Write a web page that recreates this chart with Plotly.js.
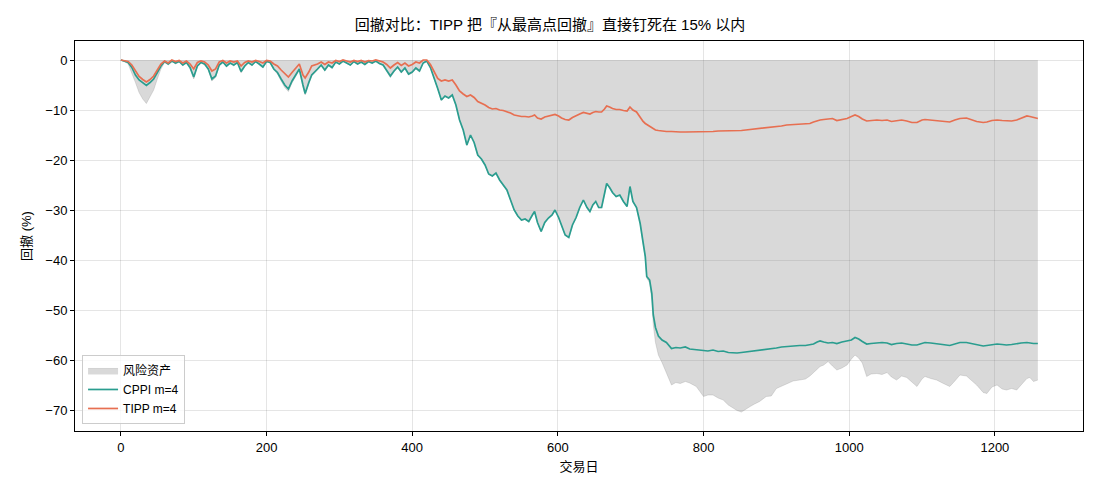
<!DOCTYPE html>
<html><head><meta charset="utf-8">
<script src="https://cdn.plot.ly/plotly-3.0.1.min.js"></script>
<style>html,body{margin:0;padding:0;background:#fff}#chart{width:1100px;height:495px}</style>
</head><body><div id="chart"></div>
<script>
const days = [0,5,10,15,20,25,30,35,40,45,50,55,60,65,70,75,80,85,90,95,100,105,110,115,120,125,130,135,140,145,150,155,160,165,170,175,180,185,190,195,200,205,210,215,220,225,230,235,240,245,250,253,258,262,270,275,280,285,290,295,300,305,310,315,320,325,330,335,340,345,350,355,360,365,370,375,380,385,390,395,400,405,410,415,420,425,430,435,440,445,450,455,460,465,470,475,480,485,490,495,500,505,510,515,520,525,530,535,540,545,550,555,560,565,568,572,577,582,587,592,596,601,605,610,615,620,625,630,635,640,644,648,652,656,660,664,667,671,675,680,685,690,695,699,703,708,713,717,720,722,726,729,731,734,738,743,749,756,762,768,775,781,790,800,806,813,820,827,834,841,846,852,858,864,870,877,886,893,900,907,914,923,932,940,946,951,956,960,965,971,977,983,990,997,1003,1008,1013,1018,1024,1030,1038,1045,1052,1058,1065,1072,1079,1086,1093,1100,1104,1112,1120,1128,1138,1145,1152,1161,1168,1175,1184,1189,1196,1203,1210,1216,1223,1230,1236,1244,1248,1253,1259];

const cppi = [0,-0.2,-0.5,-1.5,-3.0,-4.0,-4.6,-5.1,-4.5,-3.8,-2.5,-1.2,-0.3,-0.8,-0.2,-0.6,-0.3,-1.0,-0.5,-1.5,-3.4,-1.2,-0.5,-0.8,-1.8,-3.8,-3.2,-1.0,-0.4,-1.2,-0.6,-1.0,-0.5,-2.3,-1.2,-0.5,-1.0,-0.3,-0.8,-1.4,-0.3,-0.5,-1.8,-2.5,-3.8,-5.0,-5.8,-4.2,-3.0,-1.8,-5.0,-6.7,-4.5,-3.0,-1.8,-1.0,-2.0,-1.0,-1.5,-0.4,-0.8,-0.2,-0.6,-1.0,-0.3,-0.8,-0.4,-0.9,-0.3,-0.6,-0.2,-0.7,-1.0,-2.0,-3.2,-2.2,-1.4,-2.4,-1.6,-2.8,-2.4,-1.6,-2.2,-0.6,-0.2,-1.5,-3.5,-5.7,-8.0,-7.2,-7.6,-7.0,-9.0,-12.0,-14.0,-17.0,-15.0,-16.5,-19.0,-19.8,-21.0,-22.8,-23.2,-22.6,-24.0,-25.0,-26.0,-28.0,-30.0,-31.2,-32.0,-31.8,-32.3,-31.0,-30.3,-32.5,-34.3,-32.5,-31.6,-31.0,-30.0,-31.5,-33.0,-35.0,-35.5,-33.0,-31.5,-29.5,-28.0,-29.5,-30.3,-29.0,-28.3,-29.5,-29.5,-27.0,-24.7,-25.5,-26.5,-27.3,-27.0,-28.3,-29.3,-25.3,-28.3,-29.5,-32.7,-36.5,-39.3,-43.3,-44.0,-46.7,-51.0,-53.5,-55.2,-56.0,-56.5,-57.7,-57.5,-57.6,-57.4,-57.8,-58.0,-58.1,-58.2,-58.0,-58.3,-58.2,-58.5,-58.6,-58.6,-58.5,-58.4,-58.2,-58.2,-58.0,-57.8,-57.8,-57.6,-57.4,-57.3,-57.2,-57.1,-57.1,-57.0,-56.8,-56.4,-56.2,-56.4,-56.6,-56.5,-56.7,-56.4,-56.2,-56.0,-55.5,-55.8,-56.3,-56.8,-56.7,-56.6,-56.5,-56.6,-56.9,-56.7,-56.6,-56.8,-57.0,-57.0,-56.6,-56.5,-56.6,-56.7,-56.9,-57.1,-56.8,-56.5,-56.5,-56.7,-57.0,-57.2,-57.1,-56.9,-56.8,-56.9,-57.0,-56.9,-56.7,-56.6,-56.5,-56.6,-56.7,-56.7];

const tipp = [0,-0.2,-0.3,-1.0,-2.2,-3.3,-3.9,-4.4,-3.9,-3.2,-2.0,-0.8,-0.2,-0.6,0,-0.3,-0.1,-0.6,-0.2,-0.8,-1.8,-0.5,-0.2,-0.4,-1.0,-2.2,-1.8,-0.4,-0.1,-0.6,-0.2,-0.4,-0.2,-1.2,-0.5,-0.2,-0.4,-0.1,-0.3,-0.6,-0.1,-0.2,-0.8,-1.2,-2.0,-2.8,-3.4,-2.5,-1.6,-0.8,-3.0,-3.6,-2.4,-1.2,-0.8,-0.4,-0.9,-0.4,-0.6,-0.1,-0.3,0,-0.2,-0.4,-0.1,-0.3,-0.1,-0.4,-0.1,-0.2,0,-0.2,-0.4,-0.9,-1.6,-1.0,-0.5,-1.1,-0.6,-1.2,-0.9,-0.4,-0.6,0,0,-0.9,-2.2,-3.7,-4.2,-4.0,-4.2,-4.0,-5.0,-6.2,-6.8,-7.3,-7.0,-7.5,-8.3,-8.6,-9.0,-9.5,-9.8,-9.7,-10.0,-10.1,-10.3,-10.6,-11.0,-11.2,-11.3,-11.3,-11.4,-11.2,-11.0,-11.6,-11.8,-11.4,-11.2,-11.0,-10.9,-11.2,-11.6,-11.9,-12.0,-11.5,-11.1,-10.8,-10.5,-10.7,-10.8,-10.5,-10.3,-10.4,-10.4,-9.8,-9.2,-9.4,-9.7,-9.9,-9.9,-10.1,-10.2,-9.4,-10.0,-10.4,-11.5,-12.3,-12.7,-12.9,-13.3,-13.6,-13.8,-14.0,-14.1,-14.2,-14.3,-14.3,-14.4,-14.4,-14.4,-14.4,-14.4,-14.3,-14.3,-14.3,-14.2,-14.2,-14.2,-14.1,-14.1,-14.1,-14.0,-13.9,-13.9,-13.8,-13.6,-13.5,-13.4,-13.2,-13.0,-12.9,-12.8,-12.8,-12.7,-12.4,-12.1,-12.0,-11.9,-11.8,-11.7,-12.1,-11.9,-11.7,-11.3,-11.0,-11.3,-11.8,-12.2,-12.1,-12.0,-12.1,-12.0,-12.3,-12.1,-12.0,-12.2,-12.5,-12.5,-12.0,-11.9,-12.0,-12.1,-12.2,-12.4,-12.0,-11.7,-11.6,-11.9,-12.3,-12.5,-12.4,-12.1,-12.0,-12.1,-12.2,-12.2,-12.0,-11.6,-11.2,-11.3,-11.5,-11.7];

const risky = [0,-0.3,-0.8,-2.5,-4.5,-6.5,-7.8,-8.7,-7.2,-6.0,-3.8,-1.8,-0.5,-1.0,-0.3,-0.8,-0.4,-1.2,-0.6,-1.8,-3.8,-1.4,-0.6,-1.0,-2.0,-4.2,-3.5,-1.2,-0.5,-1.4,-0.7,-1.2,-0.6,-2.6,-1.4,-0.6,-1.2,-0.4,-1.0,-1.6,-0.4,-0.6,-2.0,-2.8,-4.2,-5.5,-6.3,-4.6,-3.3,-2.0,-5.4,-7.0,-4.8,-3.2,-2.0,-1.2,-2.2,-1.2,-1.7,-0.5,-0.9,-0.3,-0.7,-1.1,-0.4,-0.9,-0.5,-1.0,-0.4,-0.7,-0.3,-0.8,-1.1,-2.2,-3.5,-2.4,-1.6,-2.6,-1.8,-3.0,-2.6,-1.8,-2.4,-0.7,-0.3,-1.6,-3.6,-5.8,-8.1,-7.3,-7.7,-7.1,-9.1,-12.1,-14.1,-17.1,-15.1,-16.6,-19.1,-19.9,-21.1,-22.9,-23.3,-22.7,-24.1,-25.1,-26.1,-28.1,-30.1,-31.3,-32.1,-31.9,-32.4,-31.1,-30.4,-32.6,-34.4,-32.6,-31.7,-31.1,-30.1,-31.6,-33.1,-35.1,-35.6,-33.1,-31.6,-29.6,-28.1,-29.6,-30.4,-29.1,-28.4,-29.6,-29.6,-27.1,-24.8,-25.6,-26.6,-27.4,-27.1,-28.4,-29.4,-25.4,-28.4,-29.6,-32.8,-36.6,-39.5,-43.6,-44.6,-48.0,-53.0,-56.5,-59.0,-60.5,-62.7,-65.0,-64.5,-64.7,-64.3,-64.6,-65.3,-67.3,-67.0,-67.0,-67.6,-68.0,-69.0,-69.7,-70.1,-70.4,-69.8,-69.3,-68.8,-68.3,-67.3,-67.2,-65.7,-65.2,-64.7,-64.2,-64.0,-63.8,-63.2,-62.5,-61.7,-61.3,-61.0,-60.3,-61.2,-62.0,-61.6,-61.0,-59.8,-59.0,-59.6,-60.6,-63.3,-62.8,-62.7,-62.9,-62.5,-63.4,-64.0,-63.2,-63.5,-64.5,-65.3,-63.8,-63.3,-63.7,-64.0,-64.6,-65.3,-64.2,-63.0,-63.2,-64.2,-65.0,-66.5,-66.7,-65.4,-65.0,-65.8,-66.0,-65.7,-66.0,-65.0,-63.7,-63.5,-64.3,-64.0];

const seriesNames = ['风险资产', 'CPPI m=4', 'TIPP m=4'];
const xTicks = [0, 200, 400, 600, 800, 1000, 1200];
const yTicks = [0, -10, -20, -30, -40, -50, -60, -70];

const font = '"Liberation Sans", Arial, "Noto Sans CJK SC", sans-serif';

const traces = [
  {x: days, y: risky, name: seriesNames[0], type: 'scatter', mode: 'lines',
   fill: 'tozeroy', fillcolor: 'rgba(128,128,128,0.3)',
   line: {color: 'rgba(128,128,128,0.3)', width: 0.8}},
  {x: days, y: cppi, name: seriesNames[1], type: 'scatter', mode: 'lines',
   line: {color: '#2a9d8f', width: 1.7}},
  {x: days, y: tipp, name: seriesNames[2], type: 'scatter', mode: 'lines',
   line: {color: '#e76f51', width: 1.7}}
];

const axisCommon = {
  showline: true, linecolor: '#000', linewidth: 1, mirror: true,
  ticks: 'outside', ticklen: 4, tickcolor: '#000', tickwidth: 1,
  showgrid: true, gridcolor: 'rgba(0,0,0,0.1)', gridwidth: 1,
  zeroline: false, tickfont: {family: font, size: 13, color: '#000'}
};

const layout = {
  width: 1100, height: 495,
  margin: {l: 75, r: 17, t: 41, b: 64},
  paper_bgcolor: '#fff', plot_bgcolor: '#fff',
  font: {family: font, color: '#000'},
  title: {text: '回撤对比：TIPP 把『从最高点回撤』直接钉死在 15% 以内',
          font: {family: font, size: 15, color: '#000'},
          x: 0.5, xanchor: 'center', y: 0.95, yanchor: 'middle'},
  xaxis: Object.assign({}, axisCommon, {
    range: [-63, 1321], tickvals: xTicks,
    title: {text: '交易日', font: {family: font, size: 13}, standoff: 8}
  }),
  yaxis: Object.assign({}, axisCommon, {
    range: [-74.2, 3.8], tickvals: yTicks,
    title: {text: '回撤 (%)', font: {family: font, size: 13}, standoff: 10}
  }),
  legend: {x: 0.007, y: 0.018, xanchor: 'left', yanchor: 'bottom',
    bgcolor: 'rgba(255,255,255,0.8)', bordercolor: '#cccccc', borderwidth: 1,
    font: {family: font, size: 12, color: '#000'}, tracegroupgap: 0},
  showlegend: true
};

Plotly.newPlot('chart', traces, layout, {displayModeBar: false, staticPlot: true});
</script>
</body></html>
